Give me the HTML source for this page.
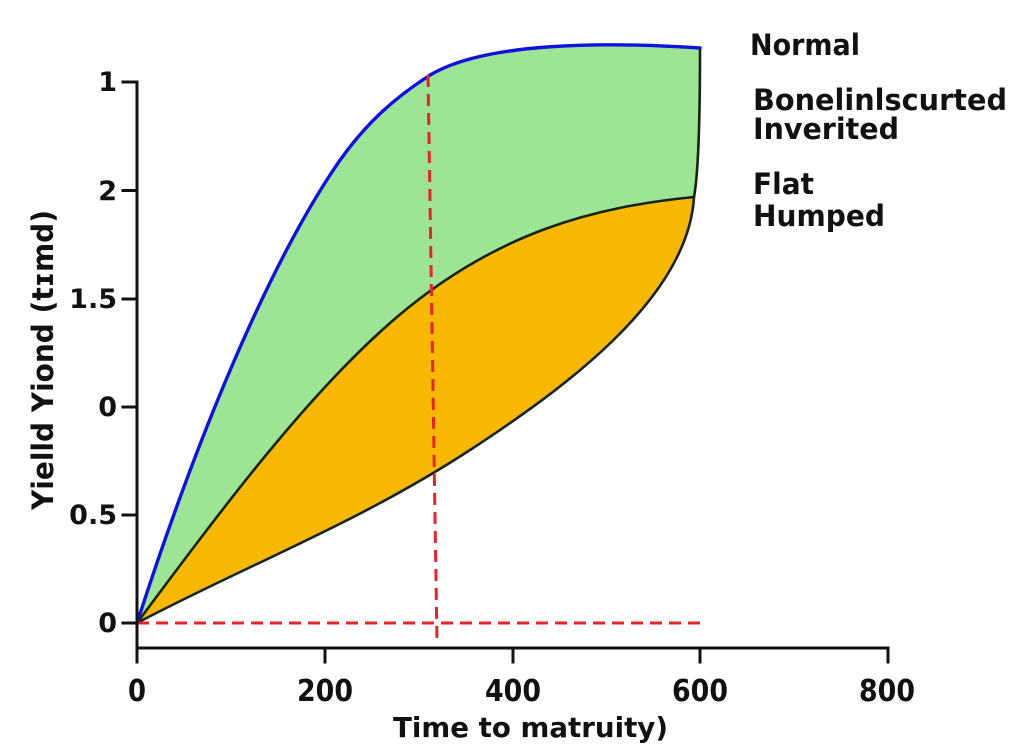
<!DOCTYPE html>
<html>
<head>
<meta charset="utf-8">
<style>
  html, body { margin: 0; padding: 0; background: #ffffff; }
  svg { display: block; }
  text { font-family: "DejaVu Sans", "Liberation Sans", sans-serif; font-weight: bold; fill: #111; }
</style>
</head>
<body>
<svg width="1024" height="747" viewBox="0 0 1024 747" xmlns="http://www.w3.org/2000/svg">
  <rect width="1024" height="747" fill="#ffffff"/>

  <!-- Green fill -->
  <path fill="#9de495" d="M137,623 C197,437 265,275 330,175 C362,125 395,98 427,77 C482,41 610,42 700,48 C700,110 699,170 694,197 C688,300 560,391 470,450 C360,522 247,565 137,623 Z"/>

  <!-- Orange fill -->
  <path fill="#f9b800" d="M137,623 C224,506 310,391 397,317 C497,232 594,207 694,197 C688,300 560,391 470,450 C360,522 247,565 137,623 Z"/>

  <!-- Dark outlines -->
  <g fill="none" stroke="#15250c" stroke-width="2.6" stroke-linejoin="round" stroke-linecap="round">
    <path d="M137,623 C224,506 310,391 397,317 C497,232 594,207 694,197"/>
    <path d="M137,623 C247,565 360,522 470,450 C560,391 688,300 694,197"/>
    <path d="M700,48 C700,110 699,170 694,197"/>
  </g>

  <!-- Blue curve -->
  <path fill="none" stroke="#1212e0" stroke-width="3.4" stroke-linecap="round" d="M137,623 C197,437 265,275 330,175 C362,125 395,98 427,77 C482,41 610,42 700,48"/>

  <!-- Red dashed lines -->
  <g stroke="#e8242a" stroke-width="3" fill="none" stroke-dasharray="12 7">
    <line x1="137" y1="623" x2="706" y2="623"/>
    <line x1="428" y1="75" x2="437" y2="642"/>
  </g>

  <!-- Axes -->
  <g stroke="#111" stroke-width="3" fill="none" stroke-linecap="square">
    <line x1="137" y1="82" x2="137" y2="662"/>
    <line x1="137" y1="648" x2="888" y2="648"/>
    <line x1="123" y1="82" x2="137" y2="82"/>
    <line x1="123" y1="190.5" x2="137" y2="190.5"/>
    <line x1="123" y1="299" x2="137" y2="299"/>
    <line x1="123" y1="407" x2="137" y2="407"/>
    <line x1="123" y1="515" x2="137" y2="515"/>
    <line x1="123" y1="623" x2="137" y2="623"/>
    <line x1="325" y1="648" x2="325" y2="662"/>
    <line x1="513" y1="648" x2="513" y2="662"/>
    <line x1="700" y1="648" x2="700" y2="662"/>
    <line x1="888" y1="648" x2="888" y2="662"/>
  </g>

  <!-- Y tick labels -->
  <g font-size="27" text-anchor="end">
    <text x="117" y="91">1</text>
    <text x="117" y="200">2</text>
    <text x="117" y="308">1.5</text>
    <text x="117" y="416">0</text>
    <text x="117" y="524">0.5</text>
    <text x="117" y="632">0</text>
  </g>

  <!-- X tick labels -->
  <g font-size="30">
    <text x="128" y="701" textLength="18" lengthAdjust="spacingAndGlyphs">0</text>
    <text x="297" y="701" textLength="56" lengthAdjust="spacingAndGlyphs">200</text>
    <text x="485" y="701" textLength="56" lengthAdjust="spacingAndGlyphs">400</text>
    <text x="672" y="701" textLength="56" lengthAdjust="spacingAndGlyphs">600</text>
    <text x="859" y="701" textLength="56" lengthAdjust="spacingAndGlyphs">800</text>
  </g>

  <!-- X axis title -->
  <text x="393" y="737" font-size="28" textLength="275" lengthAdjust="spacingAndGlyphs">Time to matruity)</text>

  <!-- Y axis title -->
  <text transform="translate(53,360) rotate(-90)" x="-150" y="0" font-size="29" textLength="300" lengthAdjust="spacingAndGlyphs">Yielld Yiond (tɪmd)</text>

  <!-- Legend labels -->
  <g font-size="29">
    <text x="750" y="55" textLength="110" lengthAdjust="spacingAndGlyphs">Normal</text>
    <text x="753" y="110" textLength="254" lengthAdjust="spacingAndGlyphs">Bonelinlscurted</text>
    <text x="753" y="139" textLength="146" lengthAdjust="spacingAndGlyphs">Inverited</text>
    <text x="753" y="194" textLength="61" lengthAdjust="spacingAndGlyphs">Flat</text>
    <text x="753" y="226" textLength="132" lengthAdjust="spacingAndGlyphs">Humped</text>
  </g>
</svg>
</body>
</html>
